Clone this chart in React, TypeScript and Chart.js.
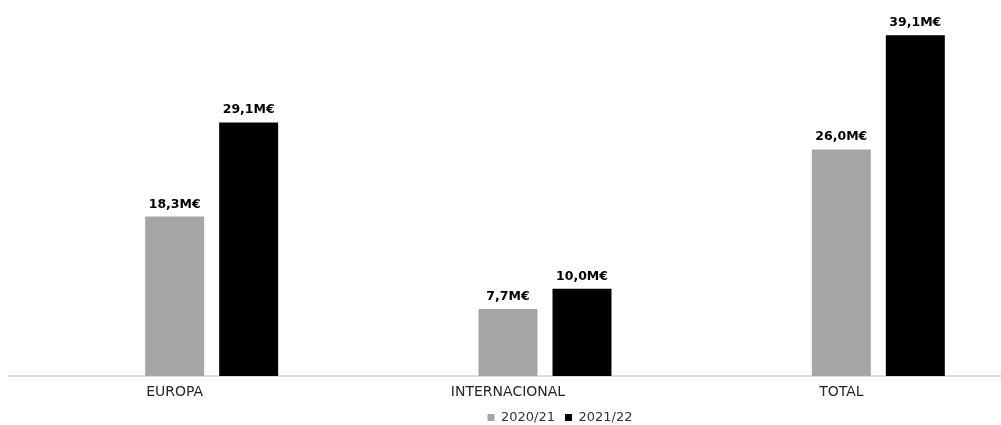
import React, { useEffect, useRef } from "react";
import { Chart, registerables } from "chart.js";

Chart.register(...registerables);

const categories = ["EUROPA", "INTERNACIONAL", "TOTAL"];
const seriesNames = ["2020/21", "2021/22"];
const values2020 = [18.3, 7.7, 26.0];
const values2021 = [29.1, 10.0, 39.1];
const spacer = [null, null, null];
const colors = ["#a5a5a5", "#000000"];

const fmt = (v: number) => v.toFixed(1).replace(".", ",") + "M€";

const valueLabels = {
  id: "valueLabels",
  afterDatasetsDraw(chart: any) {
    const ctx = chart.ctx;
    ctx.save();
    ctx.font = "bold 12.5px 'DejaVu Sans'";
    ctx.fillStyle = "#000";
    ctx.textAlign = "center";
    ctx.textBaseline = "alphabetic";
    chart.data.datasets.forEach((ds: any, di: number) => {
      if (!ds.label) return;
      const meta = chart.getDatasetMeta(di);
      meta.data.forEach((bar: any, i: number) => {
        const v = ds.data[i];
        if (v == null) return;
        ctx.fillText(fmt(v), bar.x, bar.y - 9);
      });
    });
    ctx.restore();
  },
};

export default function App() {
  const ref = useRef<HTMLCanvasElement>(null);
  useEffect(() => {
    if (!ref.current) return;
    const chart = new Chart(ref.current, {
      type: "bar",
      data: {
        labels: categories,
        datasets: [
          { label: "", data: spacer as any, backgroundColor: "#fff" },
          { label: seriesNames[0], data: values2020, backgroundColor: colors[0] },
          { label: seriesNames[1], data: values2021, backgroundColor: colors[1] },
        ],
      },
      options: {
        responsive: false,
        animation: false,
        devicePixelRatio: 1,
        layout: { padding: { top: 2 } },
        datasets: {
          bar: { categoryPercentage: 0.666, barPercentage: 0.797 },
        } as any,
        plugins: {
          tooltip: { enabled: false },
          legend: {
            position: "bottom",
            labels: {
              boxWidth: 7,
              boxHeight: 7,
              padding: 10,
              color: "#333",
              font: { family: "'DejaVu Sans'", size: 13 },
              filter: (item: any) => item.text !== "",
            },
          },
        },
        scales: {
          x: {
            grid: { display: false, drawTicks: false },
            border: { display: true, color: "#dcdcdc", width: 2 },
            ticks: {
              color: "#262626",
              padding: 8,
              font: { family: "'DejaVu Sans'", size: 14 },
            },
            afterFit: (s: any) => {
              s.height = 25;
            },
          },
          y: {
            position: "right",
            min: 0,
            max: 42,
            grid: { display: false },
            border: { display: false },
            ticks: { display: false },
            afterFit: (s: any) => {
              s.width = 104;
            },
          },
        },
      },
      plugins: [valueLabels],
    });
    return () => chart.destroy();
  }, []);
  return (
    <div
      style={{
        position: "fixed",
        left: 0,
        top: 0,
        width: 1001,
        height: 425,
        overflow: "hidden",
        background: "#fff",
      }}
    >
      <canvas
        ref={ref}
        width={1104}
        height={426}
        style={{ position: "absolute", left: 8, top: 8 }}
      />
    </div>
  );
}
